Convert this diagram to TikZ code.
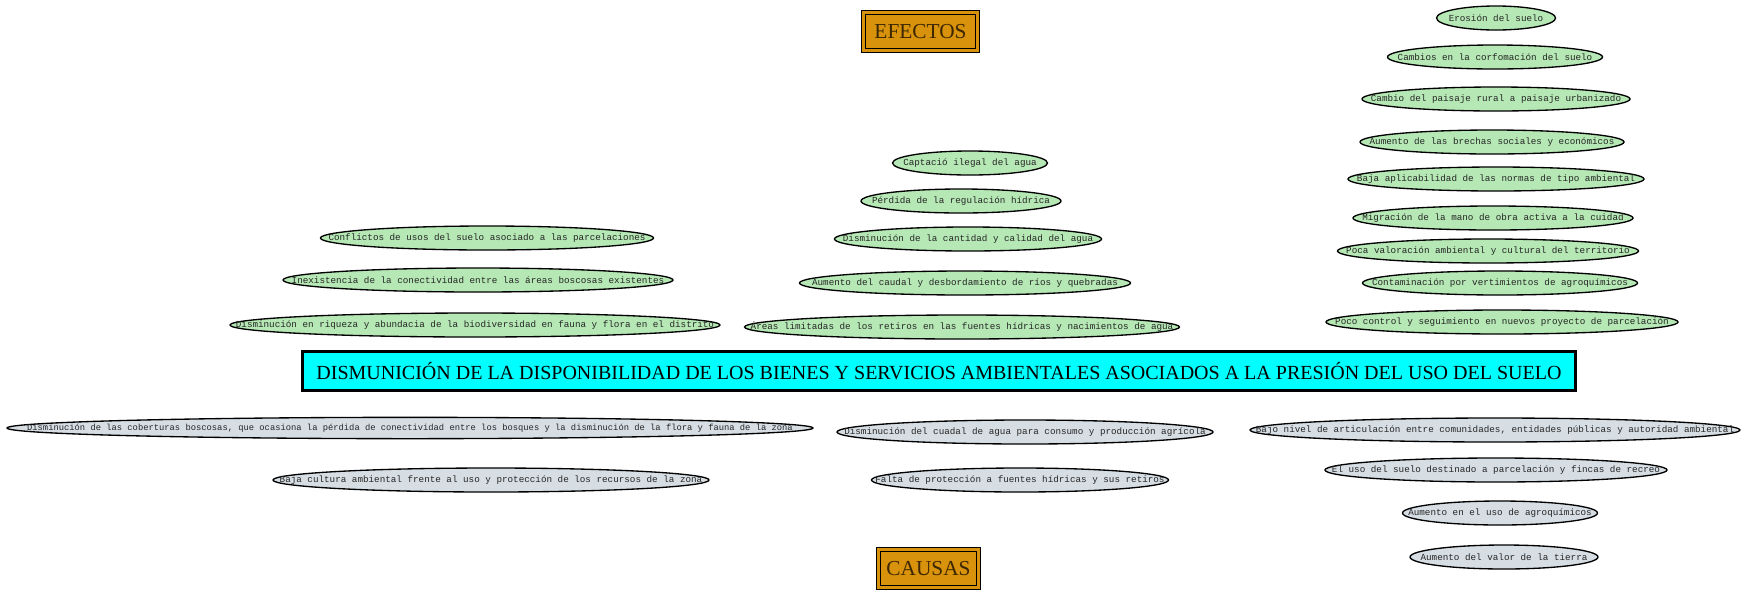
\documentclass[tikz,border=0pt]{standalone}
\usepackage{fontspec}
\setmainfont{Liberation Serif}
\setmonofont{Liberation Mono}
\usetikzlibrary{shapes.geometric}
\definecolor{verdeefecto}{RGB}{181,232,180}
\definecolor{griscausa}{RGB}{214,222,228}
\definecolor{naranja}{RGB}{216,146,12}
\definecolor{marron}{RGB}{62,40,0}
\definecolor{cian}{RGB}{0,255,255}

\begin{document}
\begin{tikzpicture}[x=0.75pt, y=-0.75pt,
    ancho/.style={minimum width=#1*0.75pt},
    ovalo/.style={ellipse, draw=black, line width=1pt, inner sep=0pt,
      minimum height=18pt, text=black!85,
      font=\ttfamily\fontsize{6.95}{8}\selectfont,
      execute at begin node={\hbox to 0pt\bgroup\hss},
      execute at end node={\hss\egroup}},
    efecto/.style={ovalo, fill=verdeefecto},
    causa/.style={ovalo, fill=griscausa},
    titulo/.style={rectangle, draw=black, line width=0.8pt, double=naranja,
      double distance=2pt, fill=naranja, text=marron, inner sep=0pt,
      minimum height=28.5pt, font=\fontsize{16}{18}\selectfont},
    problema/.style={rectangle, draw=black, line width=2.25pt, fill=cian,
      inner sep=0pt, minimum width=954.75pt, minimum height=29.25pt,
      font=\fontsize{15}{17}\selectfont}]
  \useasboundingbox (0,0) rectangle (1741,590);

  % Encabezados
  \node[titulo, ancho=114] (efectos) at (920.5,31.5) {EFECTOS};
  \node[titulo, ancho=100] (causas) at (928.5,568.5) {CAUSAS};

  % Problema central
  \node[problema] (central) at (939,371) {DISMUNICIÓN DE LA DISPONIBILIDAD DE LOS BIENES Y SERVICIOS AMBIENTALES ASOCIADOS A LA PRESIÓN DEL USO DEL SUELO};

  % Efectos: columna izquierda
  \node[efecto, ancho=333] (conflictos) at (487,238) {Conflictos de usos del suelo asociado a las parcelaciones};
  \node[efecto, ancho=390] (inexistencia) at (478,280) {Inexistencia de la conectividad entre las áreas boscosas existentes};
  \node[efecto, ancho=490] (riqueza) at (475,325) {Disminución en riqueza y abundacia de la biodiversidad en fauna y flora en el distrito};

  % Efectos: columna central
  \node[efecto, ancho=155] (captacion) at (970,163) {Captació ilegal del agua};
  \node[efecto, ancho=200] (regulacion) at (961,201) {Pérdida de la regulación hídrica};
  \node[efecto, ancho=267] (cantidad) at (968,239) {Disminución de la cantidad y calidad del agua};
  \node[efecto, ancho=331] (caudal) at (965,283) {Aumento del caudal y desbordamiento de ríos y quebradas};
  \node[efecto, ancho=435] (retiros) at (962,327) {Áreas limitadas de los retiros en las fuentes hídricas y nacimientos de agua};

  % Efectos: columna derecha
  \node[efecto, ancho=119] (erosion) at (1496,18) {Erosión del suelo};
  \node[efecto, ancho=215] (conformacion) at (1495,57) {Cambios en la corfomación del suelo};
  \node[efecto, ancho=268] (paisaje) at (1496,99) {Cambio del paisaje rural a paisaje urbanizado};
  \node[efecto, ancho=264] (brechas) at (1492,142) {Aumento de las brechas sociales y económicos};
  \node[efecto, ancho=296] (normas) at (1496,179) {Baja aplicabilidad de las normas de tipo ambiental};
  \node[efecto, ancho=280] (migracion) at (1493,218) {Migración de la mano de obra activa a la cuidad};
  \node[efecto, ancho=301] (valoracion) at (1488,251) {Poca valoración ambiental y cultural del territorio};
  \node[efecto, ancho=275] (vertimientos) at (1500,283) {Contaminación por vertimientos de agroquímicos};
  \node[efecto, ancho=352] (seguimiento) at (1502,322) {Poco control y seguimiento en nuevos proyecto de parcelación};

  % Causas
  \node[causa, ancho=806, minimum height=16pt, font=\ttfamily\fontsize{6.6}{8}\selectfont] (coberturas) at (410,428) {Disminución de las coberturas boscosas, que ocasiona la pérdida de conectividad entre los bosques y la disminución de la flora y fauna de la zona};
  \node[causa, ancho=436] (cultura) at (491,480) {Baja cultura ambiental frente al uso y protección de los recursos de la zona};
  \node[causa, ancho=376] (cuadal) at (1025,432) {Disminución del cuadal de agua para consumo y producción agrícola};
  \node[causa, ancho=297] (proteccion) at (1020,480) {Falta de protección a fuentes hídricas y sus retiros};
  \node[causa, ancho=490] (articulacion) at (1495,430) {Bajo nivel de articulación entre comunidades, entidades públicas y autoridad ambiental};
  \node[causa, ancho=342] (parcelacion) at (1496,470) {El uso del suelo destinado a parcelación y fincas de recreo};
  \node[causa, ancho=195] (agroquimicos) at (1500,513) {Aumento en el uso de agroquímicos};
  \node[causa, ancho=188] (valor) at (1504,557) {Aumento del valor de la tierra};
\end{tikzpicture}
\end{document}
